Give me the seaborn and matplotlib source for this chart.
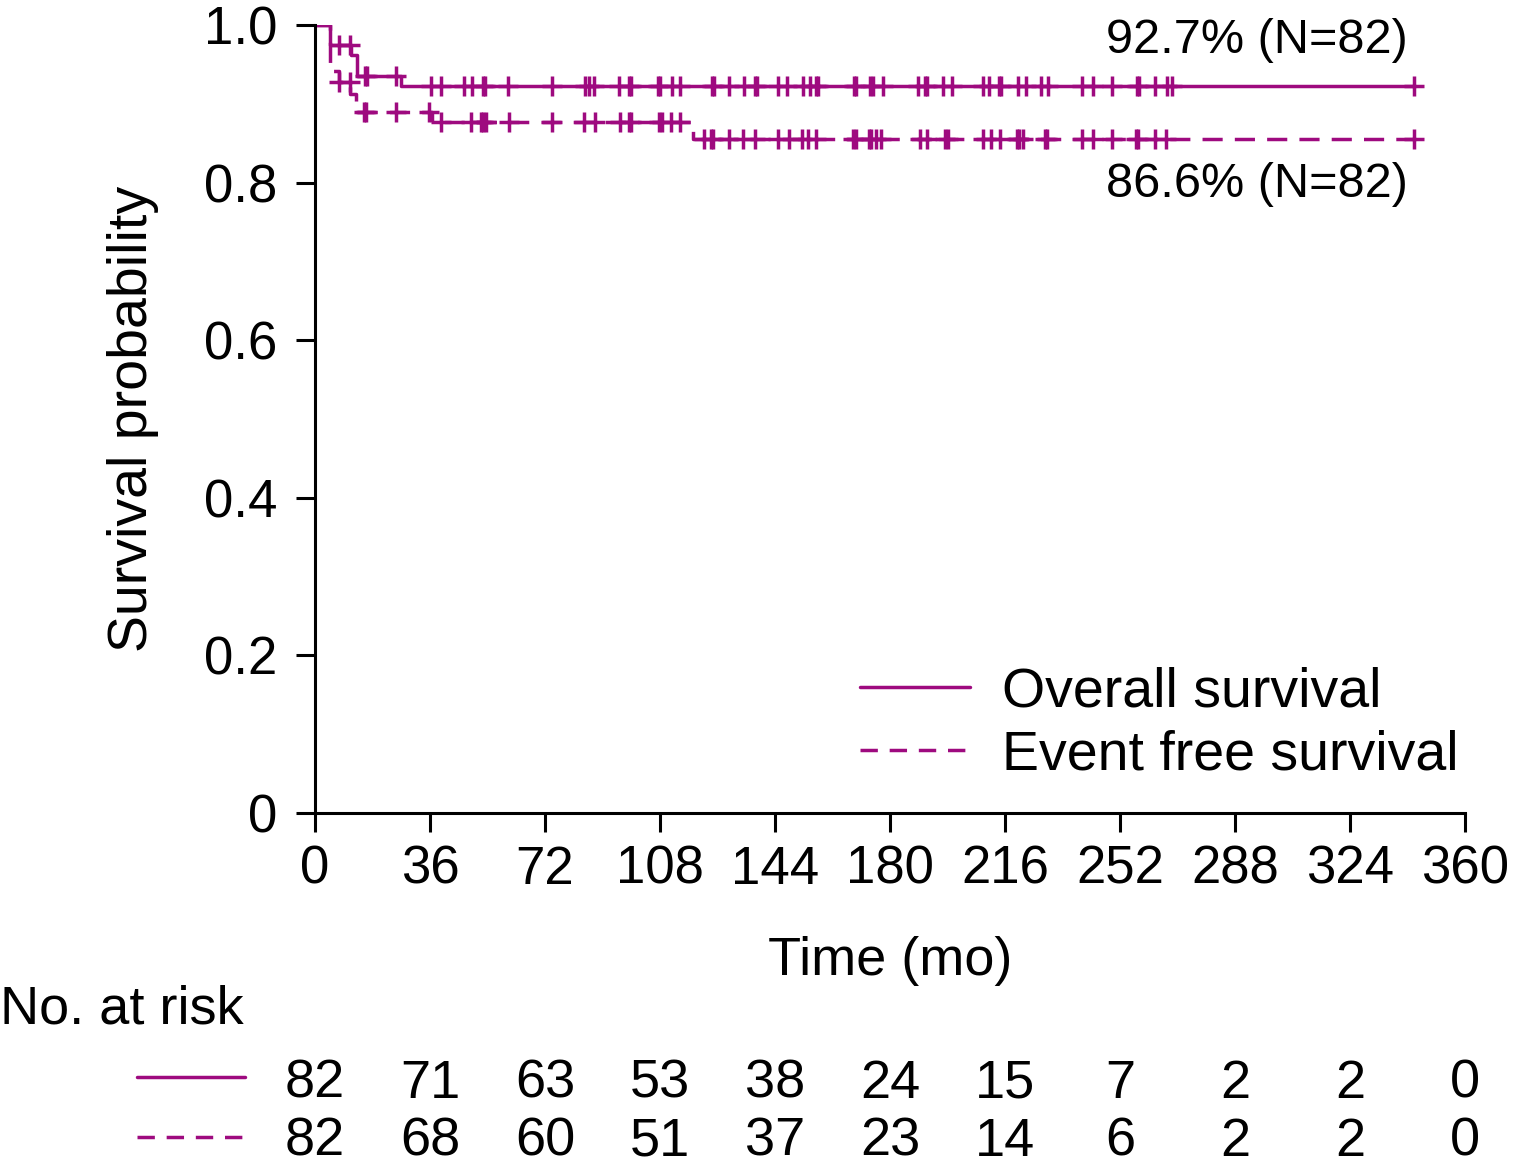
import numpy as np
import pandas as pd
import matplotlib
matplotlib.use("Agg")
import matplotlib.pyplot as plt
import seaborn as sns
from matplotlib.lines import Line2D
from matplotlib.ticker import FixedLocator, FixedFormatter

# --- data ---
# Overall survival: step times (mo) and survival after each step
os_step_time = [0, 4.7, 11.2, 13.0, 26.8]
os_step_surv = [1.0, 0.975, 0.962, 0.935, 0.923]
os_censor = [7.5, 11.0, 15.6, 16.2, 25.4, 36.2, 39.4, 46.7, 49.2, 52.6, 53.2, 60.5,
             74.3, 84.6, 85.8, 87.4, 95.2, 98.3, 98.9, 107.5, 108.1, 111.9, 114.3,
             124.2, 124.8, 129.5, 134.4, 137.7, 138.3, 144.9, 147.7, 152.7, 154.8,
             156.9, 157.5, 168.8, 169.4, 173.6, 174.8, 177.7, 188.7, 191.0, 191.6,
             196.5, 199.4, 209.1, 211.0, 214.0, 214.6, 220.0, 222.5, 227.4, 229.5,
             240.1, 243.6, 249.5, 257.4, 258.0, 262.9, 266.7, 268.4, 344.1]

# Event free survival
efs_step_time = [0, 4.7, 7.4, 11.0, 12.7, 36.5, 118.2]
efs_step_surv = [1.0, 0.941, 0.927, 0.913, 0.890, 0.877, 0.855]
efs_censor = [7.5, 10.8, 15.4, 16.0, 25.4, 35.7, 39.4, 48.8, 52.1, 52.7, 53.5, 60.6,
              74.2, 84.3, 87.7, 95.5, 98.3, 98.9, 107.6, 108.6, 111.4, 114.3, 121.9,
              124.0, 124.6, 129.7, 134.0, 137.6, 144.9, 148.3, 152.4, 154.3, 156.9,
              168.3, 169.4, 173.3, 173.9, 175.7, 177.3, 189.3, 191.6, 197.1, 198.1,
              209.1, 211.7, 214.5, 219.7, 220.3, 221.6, 228.4, 229.0, 240.2, 243.6,
              249.5, 257.0, 257.6, 262.9, 266.5, 344.1]

risk_times = [0, 36, 72, 108, 144, 180, 216, 252, 288, 324, 360]
os_risk = [82, 71, 63, 53, 38, 24, 15, 7, 2, 2, 0]
efs_risk = [82, 68, 60, 51, 37, 23, 14, 6, 2, 2, 0]

y_ticks = [0, 0.2, 0.4, 0.6, 0.8, 1.0]
y_tick_labels = ["0", "0.2", "0.4", "0.6", "0.8", "1.0"]

COLOR = "#9E0A7F"
LW = 2.5
DASH = (5.8, 3.5)
SHORT_DASH = (5.0, 3.4)


def km_frame(step_time, step_surv, censor):
    # extend the last step to the last censored time
    t = list(step_time) + [max(censor)]
    s = list(step_surv) + [step_surv[-1]]
    curve = pd.DataFrame({"time": t, "surv": s})
    idx = np.searchsorted(step_time, censor, side="right") - 1
    marks = pd.DataFrame({"time": censor, "surv": np.asarray(step_surv)[idx]})
    return curve, marks


sns.set_style("ticks")
plt.rcParams["font.family"] = ["Liberation Sans", "DejaVu Sans"]
plt.rcParams["text.color"] = "black"
plt.rcParams["axes.labelcolor"] = "black"

fig = plt.figure(figsize=(15.13, 11.67), dpi=100)
ax = fig.add_axes([0.2082, 0.3036, 0.7601, 0.6750])

os_curve, os_marks = km_frame(os_step_time, os_step_surv, os_censor)
efs_curve, efs_marks = km_frame(efs_step_time, efs_step_surv, efs_censor)

sns.lineplot(data=efs_curve, x="time", y="surv", ax=ax, color=COLOR, lw=LW,
             drawstyle="steps-post", estimator=None, sort=False,
             label="Event free survival")
ax.lines[-1].set_dashes(DASH)
sns.lineplot(data=os_curve, x="time", y="surv", ax=ax, color=COLOR, lw=LW,
             drawstyle="steps-post", estimator=None, sort=False,
             label="Overall survival")

for marks in (os_marks, efs_marks):
    sns.scatterplot(data=marks, x="time", y="surv", ax=ax, marker="+",
                    s=190, color=COLOR, linewidth=LW, legend=False, zorder=3)

ax.set_xlim(0, 360)
ax.set_ylim(0, 1.0)
ax.set_xticks(risk_times)
ax.yaxis.set_major_locator(FixedLocator(y_ticks))
ax.yaxis.set_major_formatter(FixedFormatter(y_tick_labels))
ax.tick_params(axis="both", direction="out", length=14, width=2.2,
               labelsize=38, color="black", labelcolor="black")
ax.tick_params(axis="x", pad=9)
ax.tick_params(axis="y", pad=13)
for side in ("top", "right"):
    ax.spines[side].set_visible(False)
for side in ("left", "bottom"):
    ax.spines[side].set_linewidth(2.2)
    ax.spines[side].set_color("black")
ax.spines["left"].set_zorder(5)

ax.set_xlabel("Time (mo)", fontsize=39)
ax.set_ylabel("Survival probability", fontsize=40)
ax.xaxis.set_label_coords(0.5, -0.157)
ax.yaxis.set_label_coords(-0.136, 0.5)

ax.text(342.2, 0.9645, "92.7% (N=82)", ha="right", va="baseline", fontsize=35)
ax.text(342.2, 0.7817, "86.6% (N=82)", ha="right", va="baseline", fontsize=35)

handles, labels = ax.get_legend_handles_labels()
order = [labels.index("Overall survival"), labels.index("Event free survival")]
leg = ax.legend([handles[i] for i in order], [labels[i] for i in order],
                loc="center left", bbox_to_anchor=(0.474, 0.113), frameon=False,
                fontsize=40, handlelength=1.98, handletextpad=0.58, labelspacing=0.2,
                borderpad=0, borderaxespad=0)
leg.get_lines()[1].set_dashes(SHORT_DASH)

# --- number at risk table ---
fig.text(0.0, 1 - 1023 / 1167, "No. at risk", ha="left", va="baseline", fontsize=39)
row_base = [1 - 1098 / 1167, 1 - 1156 / 1167]
row_line = [1 - 1077 / 1167, 1 - 1137 / 1167]
tr = matplotlib.transforms.blended_transform_factory(ax.transData, fig.transFigure)
for risk, yb, yl, dashed in ((os_risk, row_base[0], row_line[0], False),
                             (efs_risk, row_base[1], row_line[1], True)):
    ln = Line2D([137 / 1513, 245 / 1513], [yl, yl], transform=fig.transFigure,
                color=COLOR, lw=LW)
    if dashed:
        ln.set_dashes(SHORT_DASH)
    fig.add_artist(ln)
    for t, n in zip(risk_times, risk):
        fig.text(t, yb, str(n), transform=tr, ha="center", va="baseline", fontsize=39)

fig.savefig("out.png", dpi=100)
